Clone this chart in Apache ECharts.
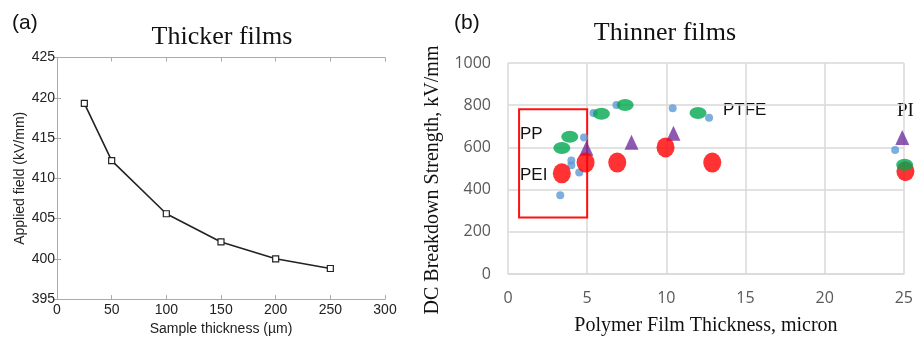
<!DOCTYPE html>
<html>
<head>
<meta charset="utf-8">
<script src="https://cdn.jsdelivr.net/npm/echarts@6/dist/echarts.min.js"></script>
<style>
  html, body { margin: 0; padding: 0; background: #fff; }
  #chart { width: 916px; height: 341px; }
</style>
</head>
<body>
<div id="chart"></div>
<script>
  // (a) thicker films
  var thickness = [25, 50, 100, 150, 200, 250]
  var appliedField = [419.3, 412.2, 405.6, 402.1, 400.0, 398.8]

  // (b) thinner films, [thickness micron, kV/mm]
  var bluePts = [[3.3, 373], [4.0, 538], [4.0, 515], [4.5, 481], [4.8, 647], [5.4, 763], [6.85, 801], [10.4, 786], [12.7, 740], [24.45, 588]]
  var greenPts = [[3.4, 597], [3.9, 651], [5.9, 760], [7.4, 801], [12.0, 763], [25.05, 518]]
  var redPts = [[3.4, 477], [4.9, 528], [6.9, 528], [9.95, 600], [12.9, 528], [25.1, 487]]
  var purplePts = [[4.95, 596], [7.8, 624], [10.45, 667], [24.9, 647]]
  var boxRange = [[0.7, 268], [5.0, 781]]

  var chart = echarts.init(document.getElementById('chart'))

  var serif = '"Liberation Serif", "DejaVu Serif", serif'
  var sans = '"Liberation Sans", Arial, sans-serif'

  chart.setOption({
    animation: false,
    title: [
      { text: 'Thicker films', left: 217, top: 19, textAlign: 'center',
        textStyle: { fontFamily: serif, fontSize: 26, fontWeight: 'normal', color: '#111' } },
      { text: 'Thinner films', left: 660, top: 15, textAlign: 'center',
        textStyle: { fontFamily: serif, fontSize: 26, fontWeight: 'normal', color: '#111' } }
    ],
    graphic: [
      { type: 'text', left: 12, top: 13, style: { text: '(a)', font: '21px ' + sans, fill: '#111' } },
      { type: 'text', left: 454, top: 13, style: { text: '(b)', font: '21px ' + sans, fill: '#111' } },
      { type: 'text', x: 433, y: 180, rotation: Math.PI / 2,
        style: { text: 'DC Breakdown Strength, kV/mm', font: '20px ' + serif, fill: '#111',
          textAlign: 'center', textVerticalAlign: 'middle' } },
      { type: 'text', left: 520, top: 126, style: { text: 'PP', font: '17px ' + sans, fill: '#111' } },
      { type: 'text', left: 520, top: 167, style: { text: 'PEI', font: '17px ' + sans, fill: '#111' } },
      { type: 'text', left: 723, top: 102, style: { text: 'PTFE', font: '17px ' + sans, fill: '#111' } },
      { type: 'text', left: 897, top: 102, style: { text: 'PI', font: '19px ' + serif, fill: '#111' } }
    ],
    grid: [
      { left: 57, top: 57.5, width: 328, height: 248.5 },
      { left: 508, top: 63, width: 399, height: 214.7 }
    ],
    xAxis: [
      {
        gridIndex: 0, type: 'value', min: 0, max: 300, interval: 50,
        name: 'Sample thickness (\u00b5m)', nameLocation: 'middle', nameGap: 17,
        nameTextStyle: { fontFamily: sans, fontSize: 14, color: '#222' },
        axisLine: { lineStyle: { color: '#aaa' } },
        axisTick: { inside: true, length: 4, lineStyle: { color: '#aaa' } },
        axisLabel: { fontFamily: sans, fontSize: 14, color: '#222', margin: 4 },
        splitLine: { show: false }
      },
      {
        gridIndex: 0, type: 'value', min: 0, max: 300, interval: 50, position: 'top',
        axisLine: { lineStyle: { color: '#aaa' } },
        axisTick: { inside: true, length: 4, lineStyle: { color: '#aaa' } },
        axisLabel: { show: false }, splitLine: { show: false }
      },
      {
        gridIndex: 1, type: 'value', min: 0, max: 25, interval: 5,
        name: 'Polymer Film Thickness, micron', nameLocation: 'middle', nameGap: 42,
        nameTextStyle: { fontFamily: serif, fontSize: 20, color: '#111' },
        axisLine: { lineStyle: { color: '#d9d9d9', width: 1.5 } },
        axisTick: { show: false },
        axisLabel: { fontFamily: '"Open Sans", sans-serif', fontSize: 16, color: '#595959', margin: 16 },
        splitLine: { show: true, lineStyle: { color: '#d9d9d9', width: 1.5 } }
      }
    ],
    yAxis: [
      {
        gridIndex: 0, type: 'value', min: 395, max: 425, interval: 5,
        name: 'Applied field (kV/mm)', nameLocation: 'middle', nameGap: 30,
        nameTextStyle: { fontFamily: sans, fontSize: 14, color: '#222' },
        axisLine: { show: true, lineStyle: { color: '#aaa' } },
        axisTick: { show: true, inside: true, length: 4, lineStyle: { color: '#aaa' } },
        axisLabel: { fontFamily: sans, fontSize: 14, color: '#222', margin: 2 },
        splitLine: { show: false }
      },
      {
        gridIndex: 0, type: 'value', min: 395, max: 425, interval: 5, position: 'right',
        axisLine: { show: true, lineStyle: { color: '#aaa' } },
        axisTick: { show: true, inside: true, length: 4, lineStyle: { color: '#aaa' } },
        axisLabel: { show: false }, splitLine: { show: false }
      },
      {
        gridIndex: 1, type: 'value', min: 0, max: 1000, interval: 200,
        axisLine: { show: false },
        axisTick: { show: false },
        axisLabel: { fontFamily: '"Open Sans", sans-serif', fontSize: 16, color: '#595959', margin: 17,
          formatter: function (v) { return String(v) } },
        splitLine: { show: true, lineStyle: { color: '#d9d9d9', width: 1.5 } }
      }
    ],
    series: [
      {
        type: 'line', xAxisIndex: 0, yAxisIndex: 0,
        data: thickness.map(function (t, i) { return [t, appliedField[i]] }),
        symbol: 'rect', symbolSize: 6, showAllSymbol: true,
        lineStyle: { color: '#222', width: 1.6 },
        itemStyle: { color: '#fff', borderColor: '#222', borderWidth: 1.2 }
      },
      {
        type: 'scatter', xAxisIndex: 2, yAxisIndex: 2, data: bluePts, clip: false,
        symbol: 'circle', symbolSize: 8, itemStyle: { color: '#5b9bd5' },
        markArea: {
          silent: true,
          itemStyle: { color: 'rgba(0,0,0,0)', borderColor: '#ff1010', borderWidth: 2 },
          data: [[{ coord: boxRange[0] }, { coord: boxRange[1] }]]
        }
      },
      {
        type: 'scatter', xAxisIndex: 2, yAxisIndex: 2, data: purplePts, clip: false,
        symbol: 'triangle', symbolSize: [14, 15], itemStyle: { color: '#7030a0' }
      },
      {
        type: 'scatter', xAxisIndex: 2, yAxisIndex: 2, data: redPts, clip: false,
        symbol: 'circle', symbolSize: [18, 20], itemStyle: { color: '#ff0000' }
      },
      {
        type: 'scatter', xAxisIndex: 2, yAxisIndex: 2, data: greenPts, clip: false,
        symbol: 'circle', symbolSize: [17, 12], itemStyle: { color: '#00a84f' }
      }
    ]
  })
</script>
</body>
</html>
